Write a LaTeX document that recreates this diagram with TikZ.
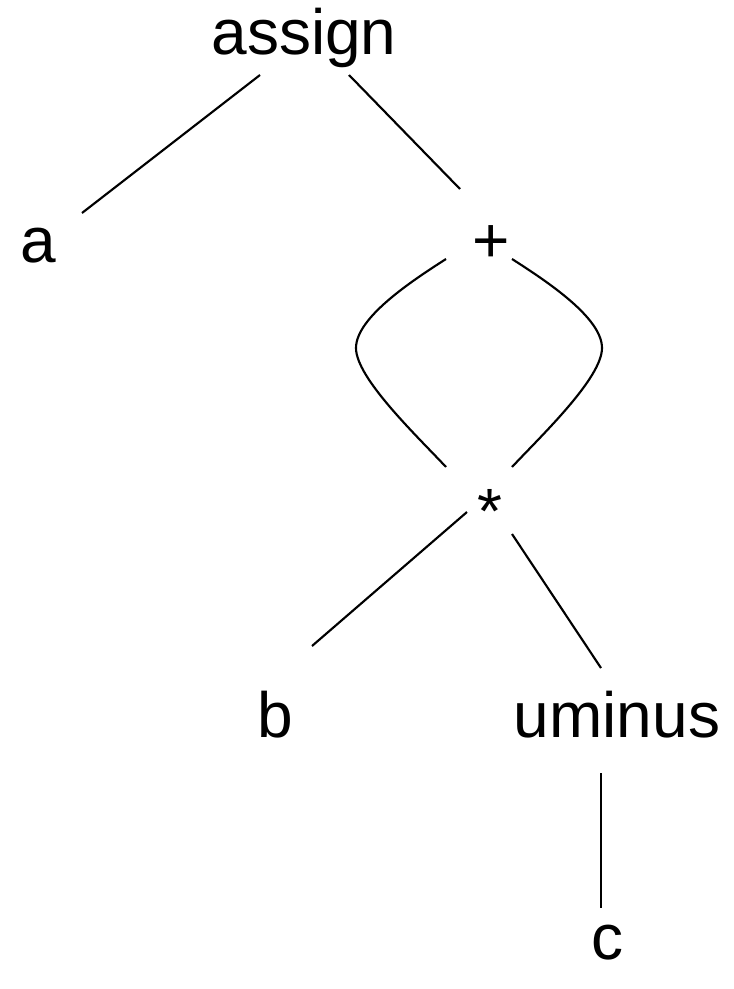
\documentclass[tikz,border=0pt]{standalone}
\usepackage{fontspec}
\setmainfont{Liberation Sans}
\usetikzlibrary{calc}

\begin{document}
\begin{tikzpicture}[x=0.75pt,y=-0.75pt,
	lbl/.style={anchor=base,inner sep=0pt,font=\fontsize{48}{58}\selectfont},
	edge/.style={line width=1.6pt}]
	%%%%% START %%%%%
	\useasboundingbox (0,0) rectangle (733,989);

	\node[lbl] (assign) at (304,54) {assign};
	\node[lbl] (a) at (38,262) {a};
	\node[lbl] (plus) at (491,262) {+};
	\node[lbl] (star) at (489.5,533) {*};
	\node[lbl] (b) at (275,737.5) {b};
	\node[lbl] (uminus) at (617,737) {uminus};
	\node[lbl] (c) at (607,959) {c};

	\draw[edge] ($(assign.base)+(-44,21)$) -- ($(a.base)+(44,-49)$);
	\draw[edge] ($(assign.base)+(45,21)$) -- ($(plus.base)+(-31,-73)$);

	\draw[edge] ($(plus.base)+(-45,-3)$) .. controls +(-36,23) and +(0,-30) .. ($(plus.base)+(-135,86)$)
		.. controls +(0,30) and +(-30,-32) .. ($(star.base)+(-43.5,-66)$);
	\draw[edge] ($(plus.base)+(21,-3)$) .. controls +(36,23) and +(0,-30) .. ($(plus.base)+(111,86)$)
		.. controls +(0,30) and +(30,-32) .. ($(star.base)+(22.5,-66)$);

	\draw[edge] ($(star.base)+(-22.5,-21)$) -- ($(b.base)+(37,-91.5)$);
	\draw[edge] ($(star.base)+(22.5,1)$) -- ($(uminus.base)+(-16,-69)$);
	\draw[edge] ($(uminus.base)+(-16,36)$) -- ($(c.base)+(-6,-51)$);

	%%%%% END %%%%%
\end{tikzpicture}
\end{document}
